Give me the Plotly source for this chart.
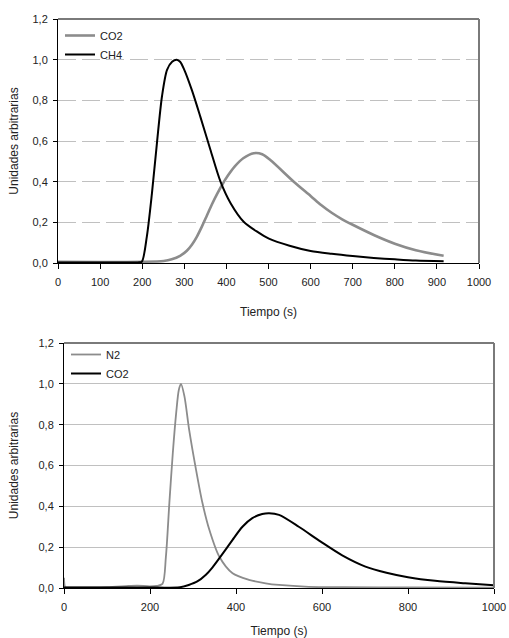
import plotly.graph_objects as go

# ---------------- data ----------------
# Top chart
top_co2_t = [0, 100, 200, 251, 270, 290, 306, 318, 330, 342, 354, 366, 378, 390, 402, 420, 440, 465, 485, 505, 560, 600, 625, 650, 675, 700, 750, 800, 850, 916]
top_co2_v = [0.006, 0.005, 0.006, 0.01, 0.018, 0.035, 0.06, 0.09, 0.13, 0.18, 0.235, 0.29, 0.34, 0.385, 0.425, 0.475, 0.515, 0.54, 0.535, 0.505, 0.40, 0.33, 0.285, 0.247, 0.215, 0.188, 0.138, 0.095, 0.063, 0.036]

top_ch4_t = [0, 100, 190, 199, 211, 223, 235, 247, 259, 271, 282, 290, 300, 318, 338, 362, 386, 410, 441, 473, 501, 550, 600, 650, 700, 750, 800, 850, 916]
top_ch4_v = [0.003, 0.003, 0.003, 0.006, 0.13, 0.34, 0.59, 0.82, 0.95, 0.99, 1.0, 0.99, 0.95, 0.85, 0.72, 0.557, 0.40, 0.294, 0.203, 0.154, 0.12, 0.085, 0.059, 0.045, 0.034, 0.025, 0.018, 0.012, 0.008]

# Bottom chart
bot_n2_t = [0, 3, 10, 50, 100, 150, 170, 199, 215, 229, 237, 245, 253, 261, 267, 272, 280, 291, 307, 322, 338, 361, 392, 430, 469, 500, 569, 650, 800, 1000]
bot_n2_v = [0.05, 0.004, 0.003, 0.003, 0.004, 0.01, 0.012, 0.008, 0.01, 0.02, 0.154, 0.416, 0.66, 0.86, 0.97, 1.0, 0.94, 0.776, 0.58, 0.416, 0.285, 0.154, 0.072, 0.04, 0.023, 0.015, 0.006, 0.004, 0.003, 0.002]

bot_co2_t = [0, 100, 200, 270, 290, 310, 330, 345, 361, 380, 392, 415, 438, 461, 477, 500, 546, 597, 647, 701, 750, 800, 863, 933, 1000]
bot_co2_v = [0.002, 0.002, 0.002, 0.004, 0.015, 0.032, 0.065, 0.1, 0.145, 0.2, 0.236, 0.30, 0.342, 0.362, 0.366, 0.358, 0.30, 0.227, 0.16, 0.105, 0.075, 0.053, 0.035, 0.023, 0.014]

y_title = "Unidades arbitrarias"
x_title = "Tiempo (s)"

GRAY = "#8c8c8c"
FONT = "Liberation Sans, Arial, sans-serif"
W, H = 509, 638

def px_x(p):
    return p / W

def px_y(p):
    return 1 - p / H

fig = go.Figure()
fig.add_trace(go.Scatter(x=top_co2_t, y=top_co2_v, name="CO2", mode="lines",
                         line=dict(color=GRAY, width=2.6, shape="spline", smoothing=0.8),
                         xaxis="x", yaxis="y", legend="legend"))
fig.add_trace(go.Scatter(x=top_ch4_t, y=top_ch4_v, name="CH4", mode="lines",
                         line=dict(color="black", width=2, shape="spline", smoothing=0.8),
                         xaxis="x", yaxis="y", legend="legend"))
fig.add_trace(go.Scatter(x=bot_n2_t, y=bot_n2_v, name="N2", mode="lines",
                         line=dict(color=GRAY, width=1.8, shape="spline", smoothing=0.8),
                         xaxis="x2", yaxis="y2", legend="legend2"))
fig.add_trace(go.Scatter(x=bot_co2_t, y=bot_co2_v, name="CO2", mode="lines",
                         line=dict(color="black", width=2, shape="spline", smoothing=0.8),
                         xaxis="x2", yaxis="y2", legend="legend2"))

tick_font = dict(family=FONT, size=11, color="#222")
title_font = dict(family=FONT, size=12, color="#222")

common_x = dict(range=[0, 1000], showgrid=False, zeroline=False, showline=True,
                linecolor="black", linewidth=1, ticks="outside", ticklen=5,
                tickcolor="black", tickfont=tick_font, automargin=False,
                ticklabelstandoff=4)
common_y = dict(range=[0, 1.2], dtick=0.2, tick0=0, tickformat=".1f", zeroline=False,
                showline=True, linecolor="black", linewidth=1, ticks="outside", ticklen=4,
                tickcolor="black", tickfont=tick_font, gridcolor="#c0c0c0", gridwidth=1,
                automargin=False, ticklabelstandoff=3)

fig.update_layout(
    width=W, height=H,
    margin=dict(l=0, r=0, t=0, b=0),
    paper_bgcolor="white", plot_bgcolor="white",
    separators=",.",
    font=dict(family=FONT, size=11, color="#222"),
    xaxis=dict(common_x, domain=[px_x(58), px_x(479)], anchor="y", dtick=100,
               title=dict(text=x_title, font=title_font, standoff=20)),
    yaxis=dict(common_y, domain=[px_y(263), px_y(19)], anchor="x", griddash="18px,6px",
               title=dict(text=y_title, font=title_font, standoff=11)),
    xaxis2=dict(common_x, domain=[px_x(64), px_x(494)], anchor="y2", dtick=200,
                title=dict(text=x_title, font=title_font, standoff=17)),
    yaxis2=dict(common_y, domain=[px_y(588), px_y(343)], anchor="x2",
                title=dict(text=y_title, font=title_font, standoff=17)),
    legend=dict(x=px_x(60), y=px_y(21), xanchor="left", yanchor="top",
                bgcolor="rgba(0,0,0,0)", font=dict(family=FONT, size=11, color="#222"),
                itemwidth=30, tracegroupgap=0),
    legend2=dict(x=px_x(66), y=px_y(340), xanchor="left", yanchor="top",
                 bgcolor="rgba(0,0,0,0)", font=dict(family=FONT, size=11, color="#222"),
                 itemwidth=30, tracegroupgap=0),
)

# gray top/right frame of each plot area
for xr, yr in (("x domain", "y domain"), ("x2 domain", "y2 domain")):
    fig.add_shape(type="line", xref=xr, yref=yr, x0=0, x1=1, y0=1, y1=1,
                  line=dict(color="#7a7a7a", width=2), layer="above")
    fig.add_shape(type="line", xref=xr, yref=yr, x0=1, x1=1, y0=0, y1=1,
                  line=dict(color="#7a7a7a", width=2), layer="above")

# remove the default 8px page margin so the figure fills the window exactly
fig.write_html("out.html", config={"displayModeBar": False},
               post_script="document.body.style.margin='0';document.body.style.overflow='hidden';")
